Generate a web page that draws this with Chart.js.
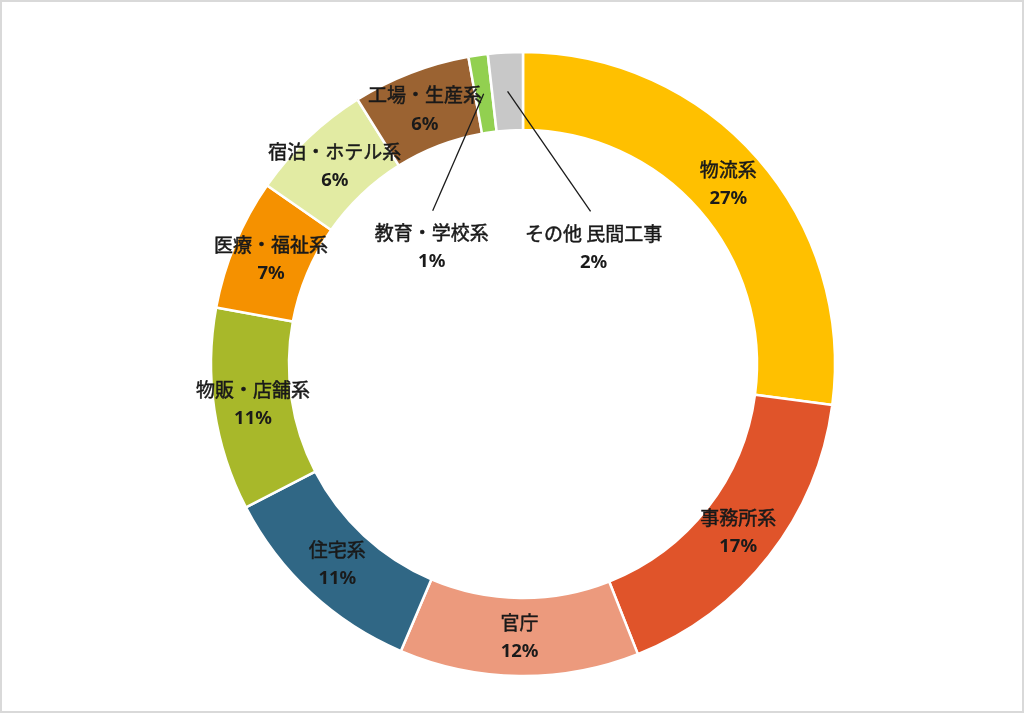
<!DOCTYPE html>
<html><head><meta charset="utf-8">
<script src="https://cdn.jsdelivr.net/npm/chart.js@4"></script>
<style>
html,body{margin:0;padding:0;background:#fff;}
#wrap{width:1024px;height:713px;box-sizing:border-box;border:2px solid #d9d9d9;position:relative;overflow:hidden;}
canvas{display:block;}
</style></head><body>
<div id="wrap"><canvas id="c"></canvas></div>
<script>
const categories = ['物流系','事務所系','官庁','住宅系','物販・店舗系','医療・福祉系','宿泊・ホテル系','工場・生産系','教育・学校系','その他 民間工事'];
const shares = [27.1, 16.9, 12.4, 11.0, 10.5, 6.8, 6.4, 6.1, 1.0, 1.8];
const percentLabels = ['27%','17%','12%','11%','11%','7%','6%','6%','1%','2%'];
const sliceColors = ['#FFC000','#E0542A','#EC9A7D','#306785','#A8B82A','#F59100','#E2EBA3','#9B6332','#92D050','#C8C8C8'];

const ringLabels = {
  id: 'ringLabels',
  afterDatasetsDraw(chart, args, opts) {
    const ctx = chart.ctx;
    const meta = chart.getDatasetMeta(0);
    const callouts = opts.callouts || {};
    ctx.save();
    ctx.textAlign = 'center';
    ctx.textBaseline = 'middle';
    ctx.fillStyle = opts.color;
    ctx.strokeStyle = opts.color;
    meta.data.forEach((arc, i) => {
      const p = arc.tooltipPosition(true);
      let lx = p.x, ly = p.y;
      const co = callouts[i];
      if (co) {
        lx = p.x + co.dx; ly = p.y + co.dy;
        ctx.beginPath();
        ctx.strokeStyle = opts.lineColor;
        ctx.lineWidth = 1.3;
        ctx.moveTo(lx + (co.lineDx || 0), ly - 36);
        ctx.lineTo(p.x, p.y);
        ctx.stroke();
      }
      ctx.font = opts.nameFont;
      ctx.lineWidth = 0.5;
      ctx.strokeStyle = opts.color;
      ctx.fillText(chart.data.labels[i], lx, ly - 14);
      ctx.strokeText(chart.data.labels[i], lx, ly - 14);
      ctx.font = opts.pctFont;
      ctx.fillText(percentLabels[i], lx, ly + 15);
    });
    ctx.restore();
  }
};

new Chart(document.getElementById('c'), {
  type: 'doughnut',
  data: {
    labels: categories,
    datasets: [{
      data: shares,
      backgroundColor: sliceColors,
      borderColor: '#ffffff',
      borderWidth: 2.5
    }]
  },
  options: {
    responsive: true,
    maintainAspectRatio: false,
    animation: false,
    radius: 312,
    cutout: '75%',
    rotation: 0,
    layout: { padding: { left: 22, top: 15, right: 0, bottom: 0 } },
    plugins: {
      legend: { display: false },
      tooltip: { enabled: false },
      ringLabels: {
        color: '#1a1a1a',
        lineColor: '#1a1a1a',
        nameFont: '19px "Noto Sans CJK JP", sans-serif',
        pctFont: 'bold 18.5px "Noto Sans", "Noto Sans CJK JP", sans-serif',
        callouts: {
          8: { dx: -52, dy: 153, lineDx: 1 },
          9: { dx: 86, dy: 156, lineDx: -3 }
        }
      }
    }
  },
  plugins: [ringLabels]
});
</script>
</body></html>
